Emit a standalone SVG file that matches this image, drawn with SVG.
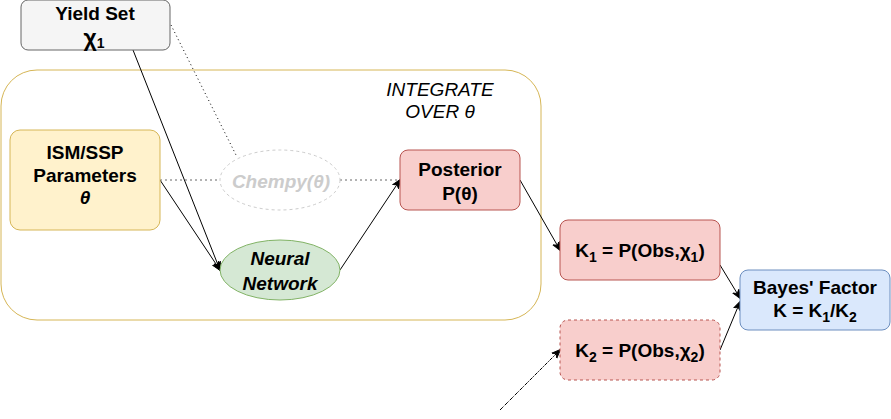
<svg xmlns="http://www.w3.org/2000/svg" width="891" height="419" viewBox="0 0 891 419">
<style>
text{font-family:"Liberation Sans",Arial,sans-serif;font-size:19px;text-anchor:middle;fill:#000}
.b{font-weight:bold}
.i{font-style:italic}
.e{fill:none;stroke:#000;stroke-width:1}
.d{fill:none;stroke:#666;stroke-width:1;stroke-dasharray:2 3}
.sub{font-size:14px}
</style>
<defs>
<marker id="a" viewBox="0 0 10 10" refX="9" refY="5" markerWidth="9" markerHeight="9" orient="auto" markerUnits="userSpaceOnUse">
<path d="M0,1 L10,5 L0,9 L3,5 Z" fill="#000" stroke="#000" stroke-width="1"/>
</marker>
</defs>
<rect width="891" height="419" fill="#fff"/>
<g id="container">
<rect x="1" y="70" width="540" height="250" rx="36" ry="36" fill="none" stroke="#d6b656"/>
<text class="i" x="440" y="96">INTEGRATE</text>
<text class="i" x="440" y="118">OVER θ</text>
</g>
<g id="edges">
<line class="e" x1="133" y1="50" x2="220" y2="270" marker-end="url(#a)"/>
<line class="e" x1="160" y1="180" x2="220" y2="270" marker-end="url(#a)"/>
<line class="e" x1="171" y1="25" x2="237" y2="157" stroke-dasharray="1 3"/>
<line class="d" x1="160" y1="180" x2="220" y2="180"/>
<line class="d" x1="340" y1="180" x2="400" y2="180"/>
<line class="e" x1="340" y1="270" x2="400" y2="180" marker-end="url(#a)"/>
<line class="e" x1="520" y1="180" x2="560" y2="250" marker-end="url(#a)"/>
<line class="e" x1="720" y1="265" x2="740" y2="298" marker-end="url(#a)"/>
<line class="e" x1="720" y1="350" x2="740" y2="302" marker-end="url(#a)"/>
<line class="e" x1="500" y1="410" x2="560" y2="350" stroke-dasharray="4 1 1 1" marker-end="url(#a)"/>
</g>
<g id="yield">
<rect x="21" y="0" width="149" height="50" rx="7" fill="#f5f5f5" stroke="#666"/>
<text class="b" x="95" y="20">Yield Set</text>
<text class="b" x="94" y="46"><tspan font-size="23px">χ</tspan><tspan class="sub" dy="2">1</tspan></text>
</g>
<g id="ism">
<rect x="10" y="130" width="150" height="100" rx="10" fill="#fff2cc" stroke="#d6b656"/>
<text class="b" x="85" y="159">ISM/SSP</text>
<text class="b" x="85" y="182">Parameters</text>
<text class="b i" x="85" y="204">θ</text>
</g>
<g id="chempy">
<ellipse cx="280" cy="180" rx="60" ry="30" fill="#fff" stroke="#ccc" stroke-dasharray="3 3"/>
<text class="b i" x="281" y="188" style="fill:#ccc">Chempy(θ)</text>
</g>
<g id="nn">
<ellipse cx="280" cy="270" rx="60" ry="30" fill="#d5e8d4" stroke="#82b366"/>
<text class="b i" x="280" y="265">Neural</text>
<text class="b i" x="280" y="290">Network</text>
</g>
<g id="posterior">
<rect x="400" y="150" width="120" height="60" rx="8" fill="#f8cecc" stroke="#b85450"/>
<text class="b" x="460" y="176">Posterior</text>
<text class="b" x="460" y="200">P(θ)</text>
</g>
<g id="k1">
<rect x="560" y="220" width="160" height="60" rx="8" fill="#f8cecc" stroke="#b85450"/>
<text class="b" x="640" y="257">K<tspan class="sub" dy="5">1</tspan><tspan dy="-5"> = P(Obs,χ</tspan><tspan class="sub" dy="5">1</tspan><tspan dy="-5">)</tspan></text>
</g>
<g id="k2">
<rect x="560" y="320" width="160" height="60" rx="8" fill="#f8cecc" stroke="#b85450" stroke-dasharray="3 3"/>
<text class="b" x="640" y="357">K<tspan class="sub" dy="5">2</tspan><tspan dy="-5"> = P(Obs,χ</tspan><tspan class="sub" dy="5">2</tspan><tspan dy="-5">)</tspan></text>
</g>
<g id="bayes">
<rect x="740" y="270" width="150" height="60" rx="8" fill="#dae8fc" stroke="#6c8ebf"/>
<text class="b" x="815" y="294">Bayes' Factor</text>
<text class="b" x="815" y="317">K = K<tspan class="sub" dy="5">1</tspan><tspan dy="-5">/K</tspan><tspan class="sub" dy="5">2</tspan></text>
</g>
</svg>
